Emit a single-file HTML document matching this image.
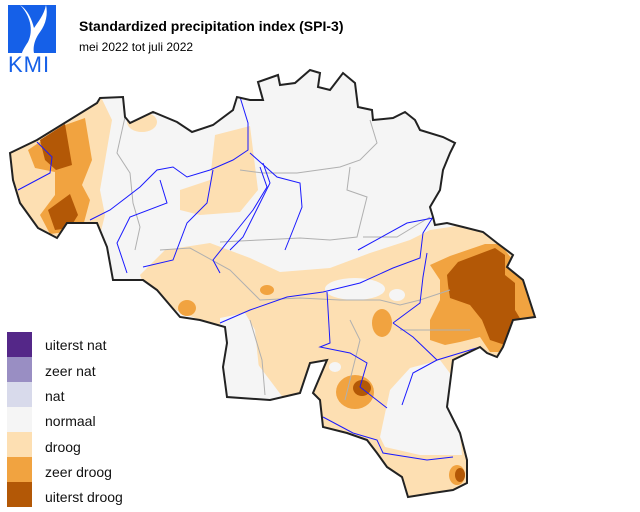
<!DOCTYPE html>
<html><head><meta charset="utf-8"><style>
body{margin:0;background:#fff;width:640px;height:507px;overflow:hidden;font-family:"Liberation Sans",sans-serif;}
</style></head><body>
<svg width="640" height="507" viewBox="0 0 640 507" xmlns="http://www.w3.org/2000/svg">
<defs>
<clipPath id="be"><path id="bp" d="M10,153 L37,140 L97,103 L100,98 L123,97 L125,117 L130,123 L153,112 L177,122 L192,132 L213,125 L233,110 L237,97 L250,100 L263,100 L258,82 L278,75 L280,85 L295,83 L310,70 L320,73 L318,87 L330,90 L343,73 L355,83 L358,107 L372,110 L373,120 L393,118 L405,112 L415,120 L420,130 L443,137 L455,143 L450,153 L443,170 L440,190 L430,207 L433,217 L435,225 L447,223 L463,227 L483,232 L497,243 L513,255 L507,267 L523,280 L535,317 L513,320 L503,347 L497,357 L487,353 L480,347 L453,360 L447,407 L460,433 L467,460 L467,483 L453,490 L433,493 L408,497 L402,477 L387,467 L377,453 L367,440 L347,433 L323,427 L320,400 L313,393 L327,360 L310,363 L300,393 L270,400 L227,397 L223,367 L227,343 L225,327 L200,320 L180,317 L157,290 L143,280 L113,280 L107,247 L97,223 L67,223 L57,238 L38,228 L20,203 L13,180 Z"/></clipPath>
</defs>
<!-- logo -->
<rect x="8" y="5" width="48" height="48" fill="#1560e8"/>
<path d="M20,5 C30,15 34,30 28,42 C24,48 22,52 22,53 L34,53 C33,48 34,40 40,32 C46,24 48,14 46,5 C44,15 38,22 34,28 C32,20 28,10 20,5 Z" fill="#fff"/>
<text x="8" y="72" font-size="22" fill="#1560e8" font-family="Liberation Sans,sans-serif" letter-spacing="1">KMI</text>
<text x="79" y="31" font-size="14" font-weight="bold" fill="#000">Standardized precipitation index (SPI-3)</text>
<text x="79" y="51" font-size="12" fill="#000">mei 2022 tot juli 2022</text>
<g clip-path="url(#be)">
<rect x="0" y="50" width="560" height="460" fill="#f5f5f5"/>
<g fill="#fddfb2">
<path d="M5,150 L100,95 L112,120 L100,190 L105,215 L100,235 L60,245 L5,210 Z"/>
<ellipse cx="142" cy="122" rx="15" ry="10"/>
<path d="M215,135 L250,126 L258,190 L240,212 L200,215 L180,210 L180,190 L210,180 Z"/>
<path d="M140,275 L165,250 L210,243 L250,258 L280,272 L330,268 L370,253 L410,240 L430,230 L470,224 L545,250 L545,340 L470,380 L470,505 L300,505 L300,420 L232,330 L200,320 L150,300 Z"/>
</g>
<g fill="#f5f5f5">
<path d="M220,318 L245,313 L255,330 L262,398 L220,402 Z"/>
<path d="M380,437 L390,390 L410,368 L440,360 L455,380 L462,455 L420,455 L385,447 Z"/>
<ellipse cx="355" cy="289" rx="30" ry="11"/>
<ellipse cx="397" cy="295" rx="8" ry="6"/>
<ellipse cx="335" cy="367" rx="6" ry="5"/>
</g>
<g fill="#f1a340">
<path d="M28,150 L65,125 L85,118 L92,160 L82,185 L90,200 L82,230 L50,234 L40,215 L55,195 L55,172 L35,168 Z"/>
<ellipse cx="267" cy="290" rx="7" ry="5"/>
<ellipse cx="187" cy="308" rx="9" ry="8"/>
<ellipse cx="382" cy="323" rx="10" ry="14"/>
<path d="M430,265 L450,256 L485,244 L500,244 L545,300 L535,322 L505,352 L490,352 L480,337 L460,342 L445,345 L430,340 L430,320 L440,300 L440,280 Z"/>
<ellipse cx="355" cy="392" rx="19" ry="17"/>
<ellipse cx="457" cy="475" rx="8" ry="10"/>
</g>
<g fill="#b35806">
<path d="M40,140 L65,124 L72,165 L56,170 L45,160 Z"/>
<path d="M48,210 L70,194 L78,215 L70,228 L55,230 Z"/>
<path d="M447,275 L458,262 L495,248 L505,255 L505,275 L515,283 L515,310 L524,325 L505,345 L490,340 L482,320 L470,305 L450,298 L448,285 Z"/>
<ellipse cx="362" cy="388" rx="9" ry="8"/>
<ellipse cx="460" cy="475" rx="5" ry="7"/>
</g>
<g fill="none" stroke="#b0b0b0" stroke-width="1">
<polyline points="125,117 117,153 130,173 133,203 140,227 135,250"/>
<polyline points="370,120 377,143 360,160 340,167 297,173 263,173 240,170"/>
<polyline points="350,167 347,190 367,197 357,237 330,240 300,238 260,240 220,242"/>
<polyline points="430,217 397,237 363,237"/>
<polyline points="160,250 190,248 230,270 260,300 300,298 340,300 380,300 400,305 420,300 450,290"/>
<polyline points="250,320 262,360 265,395"/>
<polyline points="350,320 360,340 350,380 345,400"/>
<polyline points="400,330 440,330 470,330"/>
</g>
<g fill="none" stroke="#1a1aff" stroke-width="1">
<polyline points="18,190 50,173 52,157 37,142"/>
<polyline points="90,220 110,210 140,187 157,170 173,167 187,177 210,170 233,160 248,150 248,123 240,97"/>
<polyline points="160,180 167,203 130,217 117,243 127,273"/>
<polyline points="213,170 207,203 187,223 173,260 143,267"/>
<polyline points="260,167 267,187 253,210 237,230 213,260 220,273"/>
<polyline points="250,153 277,177 300,183 302,207 293,230 285,250"/>
<polyline points="263,163 270,183 260,203 243,237 230,250"/>
<polyline points="358,250 407,223 433,218"/>
<polyline points="220,323 250,310 287,297 323,292 360,283 393,268 420,258 423,233 433,217"/>
<polyline points="327,292 330,343 320,347 350,353 367,363 360,387 387,408"/>
<polyline points="393,323 413,337 437,360 480,347"/>
<polyline points="393,323 420,303 423,277 427,253"/>
<polyline points="402,405 413,373 437,360"/>
<polyline points="323,417 353,433 377,440 383,453 427,460 453,457"/>
</g>
</g>
<use href="#bp" fill="none" stroke="#222" stroke-width="2"/>
<!-- legend -->
<rect x="7" y="332" width="25" height="25" fill="#542788"/>
<rect x="7" y="357" width="25" height="25" fill="#998ec3"/>
<rect x="7" y="382" width="25" height="25" fill="#d8daeb"/>
<rect x="7" y="407" width="25" height="25" fill="#f5f5f5"/>
<rect x="7" y="432" width="25" height="25" fill="#fddfb2"/>
<rect x="7" y="457" width="25" height="25" fill="#f1a340"/>
<rect x="7" y="482" width="25" height="25" fill="#b35806"/>
<g font-size="14" fill="#111">
<text x="45" y="350">uiterst nat</text>
<text x="45" y="376">zeer nat</text>
<text x="45" y="401">nat</text>
<text x="45" y="426">normaal</text>
<text x="45" y="452">droog</text>
<text x="45" y="477">zeer droog</text>
<text x="45" y="502">uiterst droog</text>
</g>
</svg>
</body></html>
